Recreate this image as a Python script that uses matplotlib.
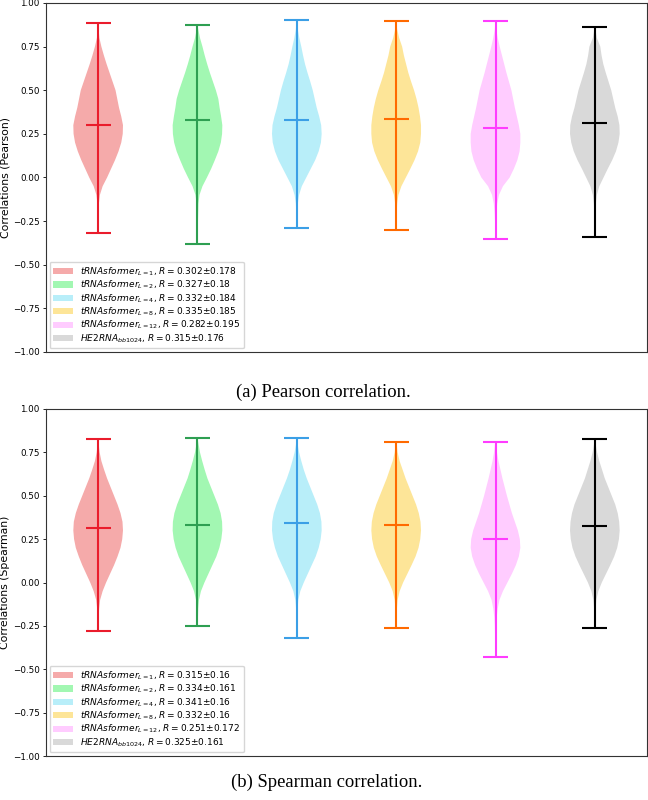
import matplotlib
matplotlib.use("Agg")
import matplotlib.pyplot as plt
from matplotlib.patches import Patch

levels = [-0.40, -0.35, -0.30, -0.25, -0.20, -0.15, -0.10, -0.05, 0.00, 0.05,
          0.10, 0.15, 0.20, 0.25, 0.30, 0.35, 0.40, 0.45, 0.50, 0.55,
          0.60, 0.65, 0.70, 0.75, 0.80, 0.85, 0.90]

names = [r"tRNAsformer_{L=1}", r"tRNAsformer_{L=2}", r"tRNAsformer_{L=4}",
         r"tRNAsformer_{L=8}", r"tRNAsformer_{L=12}", r"HE2RNA_{bb1024}"]

fill_colors = ["#f5aaaa", "#a2f7b2", "#b8eef9", "#fde598", "#ffccff", "#d9d9d9"]
line_colors = ["#ea1c2c", "#2e9f52", "#3b9fe6", "#ff6a00", "#ff3cff", "#000000"]

# Pearson
pearson_mean = [0.302, 0.327, 0.332, 0.335, 0.282, 0.315]
pearson_std = ["0.178", "0.18", "0.184", "0.185", "0.195", "0.176"]
pearson_min = [-0.32, -0.38, -0.29, -0.30, -0.355, -0.34]
pearson_max = [0.884, 0.876, 0.903, 0.899, 0.899, 0.861]
pearson_widths = [
    [0, 0, 0.01, 0.01, 0.02, 0.03, 0.07, 0.18, 0.36, 0.52, 0.68, 0.82, 0.93, 0.99, 1.0, 0.93, 0.84, 0.77, 0.70, 0.58, 0.46, 0.34, 0.23, 0.13, 0.05, 0.02, 0],
    [0, 0.01, 0.01, 0.02, 0.03, 0.04, 0.08, 0.20, 0.38, 0.55, 0.70, 0.84, 0.94, 0.99, 1.0, 0.95, 0.89, 0.84, 0.74, 0.62, 0.50, 0.39, 0.29, 0.20, 0.10, 0.03, 0],
    [0, 0, 0.01, 0.01, 0.02, 0.04, 0.09, 0.20, 0.38, 0.56, 0.74, 0.88, 0.97, 1.0, 0.98, 0.90, 0.80, 0.72, 0.64, 0.54, 0.43, 0.33, 0.25, 0.18, 0.10, 0.04, 0.01],
    [0, 0, 0.01, 0.01, 0.02, 0.04, 0.09, 0.21, 0.39, 0.57, 0.74, 0.88, 0.97, 1.0, 1.0, 0.96, 0.90, 0.82, 0.72, 0.60, 0.49, 0.40, 0.31, 0.24, 0.12, 0.04, 0.01],
    [0, 0.01, 0.01, 0.02, 0.04, 0.07, 0.14, 0.30, 0.57, 0.74, 0.88, 0.97, 1.0, 1.0, 0.94, 0.86, 0.78, 0.71, 0.64, 0.54, 0.44, 0.35, 0.26, 0.17, 0.09, 0.03, 0.01],
    [0, 0, 0.01, 0.01, 0.02, 0.04, 0.08, 0.18, 0.35, 0.52, 0.70, 0.85, 0.95, 1.0, 0.99, 0.92, 0.82, 0.74, 0.66, 0.55, 0.44, 0.34, 0.27, 0.22, 0.08, 0.02, 0],
]

# Spearman
spearman_mean = [0.315, 0.334, 0.341, 0.332, 0.251, 0.325]
spearman_std = ["0.16", "0.161", "0.16", "0.16", "0.172", "0.161"]
spearman_min = [-0.28, -0.25, -0.32, -0.265, -0.43, -0.265]
spearman_max = [0.825, 0.835, 0.830, 0.810, 0.810, 0.825]
spearman_widths = [
    [0, 0, 0, 0.01, 0.02, 0.04, 0.08, 0.18, 0.32, 0.48, 0.64, 0.78, 0.90, 0.97, 1.0, 0.98, 0.90, 0.78, 0.64, 0.50, 0.36, 0.24, 0.13, 0.06, 0.02, 0, 0],
    [0, 0, 0, 0.01, 0.02, 0.03, 0.06, 0.14, 0.28, 0.44, 0.60, 0.76, 0.88, 0.96, 1.0, 0.99, 0.93, 0.82, 0.68, 0.54, 0.40, 0.29, 0.19, 0.10, 0.04, 0.01, 0],
    [0, 0, 0.01, 0.01, 0.02, 0.03, 0.06, 0.14, 0.28, 0.44, 0.60, 0.76, 0.88, 0.96, 1.0, 0.99, 0.93, 0.82, 0.68, 0.54, 0.40, 0.28, 0.18, 0.09, 0.03, 0.01, 0],
    [0, 0, 0, 0.01, 0.02, 0.03, 0.06, 0.14, 0.28, 0.45, 0.62, 0.78, 0.90, 0.97, 1.0, 0.98, 0.91, 0.80, 0.66, 0.52, 0.38, 0.26, 0.14, 0.06, 0.02, 0, 0],
    [0.01, 0.01, 0.02, 0.03, 0.05, 0.09, 0.16, 0.30, 0.48, 0.66, 0.82, 0.94, 1.0, 0.98, 0.90, 0.78, 0.66, 0.56, 0.46, 0.37, 0.28, 0.20, 0.12, 0.06, 0.02, 0.01, 0],
    [0, 0, 0, 0.01, 0.02, 0.03, 0.06, 0.14, 0.28, 0.45, 0.62, 0.78, 0.90, 0.97, 1.0, 0.98, 0.92, 0.82, 0.68, 0.54, 0.40, 0.29, 0.18, 0.09, 0.03, 0.01, 0],
]


def draw_panel(ax, means, stds, mins, maxs, widths, ylabel):
    stats = []
    for m, lo, hi, w in zip(means, mins, maxs, widths):
        coords = [lo] + [y for y in levels if lo < y < hi] + [hi]
        vals = [0.0] + [v for y, v in zip(levels, w) if lo < y < hi] + [0.0]
        stats.append({"coords": coords, "vals": vals, "mean": m, "median": m,
                      "min": lo, "max": hi})
    positions = list(range(1, len(stats) + 1))
    parts = ax.violin(stats, positions=positions, widths=0.5,
                      showmeans=True, showextrema=True)
    for body, fc in zip(parts["bodies"], fill_colors):
        body.set_facecolor(fc)
        body.set_edgecolor("none")
        body.set_alpha(1)
    for key in ["cbars", "cmins", "cmaxes", "cmeans"]:
        parts[key].set_color(line_colors)
        parts[key].set_linewidth(1.5)

    ax.set_ylim(-1, 1)
    ax.set_yticks([-1, -0.75, -0.5, -0.25, 0, 0.25, 0.5, 0.75, 1])
    ax.set_xticks([])
    ax.tick_params(labelsize=6.3, length=2.5, width=0.6, pad=2)
    ax.set_ylabel(ylabel, fontsize=7.8, labelpad=2)
    for sp in ax.spines.values():
        sp.set_linewidth(0.8)
        sp.set_color("#333333")

    handles = [Patch(facecolor=fc) for fc in fill_colors]
    labels = [r"$%s$, $R=%.3g{\pm}%s$" % (n, m, s)
              for n, m, s in zip(names, means, stds)]
    ax.legend(handles, labels, loc="lower left", fontsize=6.5,
              handlelength=2.2, handleheight=0.7, labelspacing=0.1,
              borderaxespad=0.4)


fig = plt.figure(figsize=(6.48, 8), dpi=100)
ax1 = fig.add_axes([46 / 648, 1 - 352 / 800, 601 / 648, 349 / 800])
ax2 = fig.add_axes([46 / 648, 1 - 756 / 800, 601 / 648, 347 / 800])

draw_panel(ax1, pearson_mean, pearson_std, pearson_min, pearson_max,
           pearson_widths, "Correlations (Pearson)")
draw_panel(ax2, spearman_mean, spearman_std, spearman_min, spearman_max,
           spearman_widths, "Correlations (Spearman)")

fig.text(323 / 648, 1 - 392 / 800, "(a) Pearson correlation.", ha="center",
         va="center", fontsize=13.4, family="Liberation Serif")
fig.text(327 / 648, 1 - 782 / 800, "(b) Spearman correlation.", ha="center",
         va="center", fontsize=13.4, family="Liberation Serif")

fig.savefig("out.png", dpi=100)
